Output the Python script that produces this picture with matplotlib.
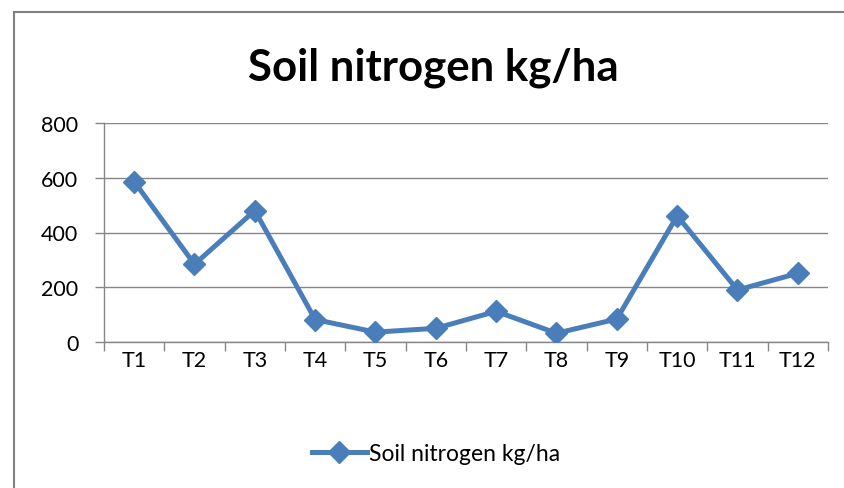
import matplotlib
matplotlib.use("Agg")
import matplotlib.pyplot as plt
from matplotlib.patches import Rectangle

plt.rcParams['font.family'] = ['Lato', 'DejaVu Sans']

# data
treatments = ["T1", "T2", "T3", "T4", "T5", "T6", "T7", "T8", "T9", "T10", "T11", "T12"]
nitrogen = [586, 284, 480, 82, 36, 50, 112, 32, 84, 461, 190, 251]
y_ticks = [0, 200, 400, 600, 800]

W, H = 845, 489
fig = plt.figure(figsize=(W / 100, H / 100), dpi=100)

# chart border (cut off at right and bottom like in the screenshot)
fig.patches.append(Rectangle((14 / W, -0.1), 2, 1 - 13 / H + 0.1,
                             transform=fig.transFigure, fill=False,
                             edgecolor="#7f7f7f", linewidth=1.5))

ax = fig.add_axes([104 / W, 1 - 343 / H, (828 - 104) / W, (343 - 124) / H])

x = list(range(1, len(treatments) + 1))
line, = ax.plot(x, nitrogen, color="#4A7EBB", linewidth=3.6, marker="D",
                markersize=11, label="Soil nitrogen kg/ha", zorder=3)

ax.set_xlim(0.5, len(treatments) + 0.5)
ax.set_ylim(0, 800)
ax.set_yticks(y_ticks)
ax.set_xticks(x)
ax.set_xticklabels(treatments)
ax.set_xticks([i + 0.5 for i in range(len(treatments) + 1)], minor=True)
ax.tick_params(axis="x", which="major", length=0, pad=6, labelsize=15.5)
ax.tick_params(axis="x", which="minor", length=6.5, color="#868686", width=1)
ax.tick_params(axis="y", length=6.5, color="#868686", width=1, pad=12, labelsize=15.5)

ax.grid(axis="y", color="#868686", linewidth=1)
ax.set_axisbelow(True)
for s in ["top", "right"]:
    ax.spines[s].set_visible(False)
for s in ["left", "bottom"]:
    ax.spines[s].set_color("#868686")
    ax.spines[s].set_linewidth(1)

fig.text(433 / W, 1 - 68 / H, "Soil nitrogen kg/ha", ha="center", va="center",
         fontsize=31.5, fontweight="bold")

fig.legend(handles=[line], loc="center", bbox_to_anchor=(436 / W, 1 - 455 / H),
           frameon=False, fontsize=16.5, handlelength=2.4, handletextpad=0.1)

fig.savefig("out.png", dpi=100)
